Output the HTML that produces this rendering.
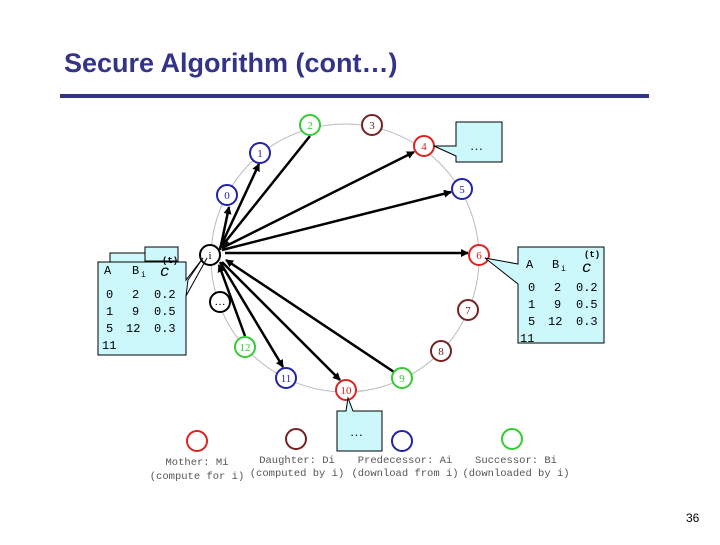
<!DOCTYPE html>
<html><head><style>
body{margin:0;width:720px;height:540px;background:#fff;overflow:hidden}
</style></head><body>
<svg width="720" height="540" xmlns="http://www.w3.org/2000/svg" font-family="Liberation Serif, serif">
<defs><marker id="a" markerWidth="8" markerHeight="8" refX="7" refY="4" orient="auto" markerUnits="userSpaceOnUse"><path d="M0,0 L8,4 L0,8 z" fill="#000"/></marker></defs>
<text x="64" y="72" font-family="Liberation Sans, sans-serif" font-weight="bold" font-size="27" fill="#333388">Secure Algorithm (cont…)</text>
<rect x="60" y="94" width="589" height="4" fill="#333388"/>
<circle cx="345" cy="258" r="134" fill="none" stroke="#bbb" stroke-width="1"/>
<g stroke="#000" stroke-width="2.5" marker-end="url(#a)">
<line x1="220" y1="250" x2="229" y2="207"/>
<line x1="220" y1="248" x2="259" y2="164"/>
<line x1="310" y1="136" x2="222" y2="246"/>
<line x1="222" y1="248" x2="414" y2="152"/>
<line x1="222" y1="250" x2="451" y2="192"/>
<line x1="225" y1="253" x2="468" y2="253"/>
<line x1="394" y1="372" x2="226" y2="260"/>
<line x1="222" y1="262" x2="340" y2="380"/>
<line x1="220" y1="262" x2="283" y2="367"/>
<line x1="245" y1="336" x2="219" y2="265"/>
</g>
<g stroke-width="2" fill="#fff" font-size="11" text-anchor="middle">
<circle cx="310" cy="125" r="10" stroke="#33cc33"/><text x="310" y="129" fill="#33cc33" stroke="none">2</text>
<circle cx="372" cy="125" r="10" stroke="#772222"/><text x="372" y="129" fill="#772222" stroke="none">3</text>
<circle cx="424" cy="146" r="10" stroke="#dd2222"/><text x="424" y="150" fill="#dd2222" stroke="none">4</text>
<circle cx="462" cy="189" r="10" stroke="#2222aa"/><text x="462" y="193" fill="#2222aa" stroke="none">5</text>
<circle cx="479" cy="255" r="10" stroke="#dd2222"/><text x="479" y="259" fill="#dd2222" stroke="none">6</text>
<circle cx="468" cy="310" r="10" stroke="#772222"/><text x="468" y="314" fill="#772222" stroke="none">7</text>
<circle cx="441" cy="351" r="10" stroke="#772222"/><text x="441" y="355" fill="#772222" stroke="none">8</text>
<circle cx="402" cy="378" r="10" stroke="#33cc33"/><text x="402" y="382" fill="#33cc33" stroke="none">9</text>
<circle cx="346" cy="390" r="10" stroke="#dd2222"/><text x="346" y="394" fill="#dd2222" stroke="none">10</text>
<circle cx="286" cy="378" r="10" stroke="#2222aa"/><text x="286" y="382" fill="#2222aa" stroke="none">11</text>
<circle cx="245" cy="347" r="10" stroke="#33cc33"/><text x="245" y="351" fill="#33cc33" stroke="none">12</text>
<circle cx="220" cy="302" r="10" stroke="#000"/><text x="220" y="305" fill="#000" stroke="none">…</text>
<circle cx="210" cy="255" r="10" stroke="#000"/><text x="210" y="259" fill="#000" stroke="none">i</text>
<circle cx="227" cy="195" r="10" stroke="#2222aa"/><text x="227" y="199" fill="#2222aa" stroke="none">0</text>
<circle cx="260" cy="153" r="10" stroke="#2222aa"/><text x="260" y="157" fill="#2222aa" stroke="none">1</text>
</g>
<g fill="#ccf8fc" stroke="#000" stroke-width="1">
<path d="M456,122 H502 V162 H456 V156 L434,146 L456,146 Z"/>
<path d="M518,247 H604 V343 H518 V284 L485,258 L518,264 Z"/>
<path d="M337,411 H346 L348,398 L353,411 H382 V451 H337 Z"/>
<rect x="110" y="253" width="68" height="10"/>
<rect x="145" y="247" width="33" height="14"/>
<path d="M98,262 H186 V280 L203,258 L188,280 L186,296 L207,258 L186,296 V355 H98 Z"/>
</g>
<g font-size="13" fill="#000">
<text x="470" y="150">…</text><text x="350" y="436">…</text>
<g font-family="Liberation Mono, monospace" font-size="12">
<text x="104" y="274">A</text><text x="132" y="274">B</text><text x="141" y="277" font-size="8">i</text><text x="160" y="276" font-style="italic" font-size="16">c</text><text x="162" y="263" font-size="9" font-weight="bold">(t)</text>
<text x="106" y="298">0</text><text x="132" y="298">2</text><text x="154" y="298">0.2</text>
<text x="106" y="315">1</text><text x="132" y="315">9</text><text x="154" y="315">0.5</text>
<text x="106" y="332">5</text><text x="126" y="332">12</text><text x="154" y="332">0.3</text>
<text x="102" y="349">11</text>
<text x="526" y="268">A</text><text x="552" y="268">B</text><text x="561" y="271" font-size="8">i</text><text x="582" y="272" font-style="italic" font-size="16">c</text><text x="584" y="257" font-size="9" font-weight="bold">(t)</text>
<text x="528" y="291">0</text><text x="554" y="291">2</text><text x="576" y="291">0.2</text>
<text x="528" y="308">1</text><text x="554" y="308">9</text><text x="576" y="308">0.5</text>
<text x="528" y="325">5</text><text x="548" y="325">12</text><text x="576" y="325">0.3</text>
<text x="520" y="342">11</text>
</g></g>
<g fill="none" stroke-width="2">
<circle cx="197" cy="441" r="10" stroke="#dd2222"/>
<circle cx="296" cy="439" r="10" stroke="#772222"/>
<circle cx="402" cy="441" r="10" stroke="#2222aa"/>
<circle cx="512" cy="439" r="10" stroke="#33cc33"/>
</g>
<g font-family="Liberation Mono, monospace" font-size="10.5" fill="#555" text-anchor="middle">
<text x="197" y="465">Mother: Mi</text><text x="197" y="479">(compute for i)</text>
<text x="297" y="463">Daughter: Di</text><text x="297" y="476">(computed by i)</text>
<text x="405" y="463">Predecessor: Ai</text><text x="405" y="476">(download from i)</text>
<text x="516" y="463">Successor: Bi</text><text x="516" y="476">(downloaded by i)</text>
</g>
<text x="686" y="522" font-family="Liberation Sans, sans-serif" font-size="12" fill="#000">36</text>
</svg>
</body></html>
